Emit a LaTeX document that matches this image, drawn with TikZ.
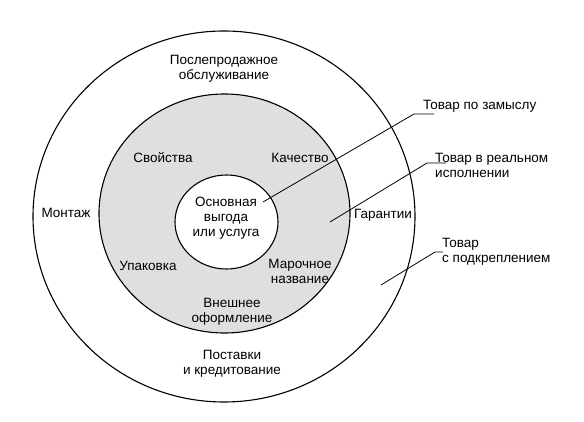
\documentclass[tikz,border=0pt]{standalone}
\usepackage{fontspec}
\setmainfont{Liberation Sans}
\usetikzlibrary{positioning}

\begin{document}
\begin{tikzpicture}[x=1pt,y=-1pt,
    lbl/.style={font=\fontsize{13.5}{15}\selectfont, align=center, inner sep=1pt},
    side/.style={lbl, align=left, anchor=west},
    ring/.style={line width=1.1pt}]
        \useasboundingbox (0,0) rectangle (584,422);

        %%% circles %%%
        \draw[ring] (224,216.5) ellipse (191pt and 185.5pt);
        \draw[ring, fill=gray!25] (224.5,213.5) ellipse (125.5pt and 119.5pt);
        \draw[ring, fill=white] (226.5,222) ellipse (51.5pt and 47pt);

        %%% core %%%
        \node[lbl] (core) at (226,218) {Основная\\выгода\\или услуга};

        %%% middle ring %%%
        \node[lbl] (svoistva) at (163,158) {Свойства};
        \node[lbl] (kachestvo) at (300,158) {Качество};
        \node[lbl] (upakovka) at (148,266) {Упаковка};
        \node[lbl] (marka) at (300,271) {Марочное\\название};
        \node[lbl] (vneshnee) at (232,312) {Внешнее\\оформление};

        %%% outer ring %%%
        \node[lbl] (servis) at (224,69) {Послепродажное\\обслуживание};
        \node[lbl] (montazh) at (66,213) {Монтаж};
        \node[lbl] (garantii) at (383,215) {Гарантии};
        \node[lbl] (postavki) at (232,364) {Поставки\\и кредитование};

        %%% side labels %%%
        \node[side] (zamysel) at (422,106) {Товар по замыслу};
        \node[side] (realny) at (434,165) {Товар в реальном\\исполнении};
        \node[side] (podkrepl) at (441,252) {Товар\\с подкреплением};

        %%% leaders %%%
        \coordinate (a1) at (263,202);
        \coordinate (k1) at (414,114);
        \coordinate (e1) at (434,114);
        \coordinate (a2) at (330,222);
        \coordinate (k2) at (427,163);
        \coordinate (e2) at (446,163);
        \coordinate (a3) at (381,285);
        \coordinate (k3) at (435,252);
        \coordinate (e3) at (443,252);
        \foreach \i in {1,2,3}{
          \draw[line width=.8pt] (a\i) -- (k\i) -- (e\i);
        }

\end{tikzpicture}
\end{document}
